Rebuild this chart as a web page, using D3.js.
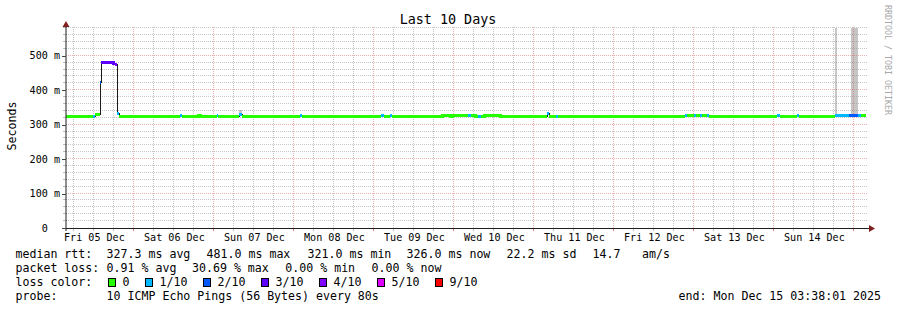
<!DOCTYPE html>
<html><head><meta charset="utf-8">
<script src="https://cdn.jsdelivr.net/npm/d3@7"></script>
<style>
html,body{margin:0;padding:0;background:#fff;}
svg{display:block;}
text{font-family:"DejaVu Sans Mono",monospace;white-space:pre;}
</style></head><body>
<svg id="chart" width="897" height="310"></svg>
<script>
// ---------------- data ----------------
const title = "Last 10 Days";
const yAxisTitle = "Seconds";
const watermark = "RRDTOOL / TOBI OETIKER";
const startTime = "2025-12-05T03:38";
const endTime = "2025-12-15T03:38";
const yMaxMs = 580.6;
const yTickValues = [0, 100, 200, 300, 400, 500];
const yTickLabels = ["0", "100 m", "200 m", "300 m", "400 m", "500 m"];
const dayLabelTimes = ["2025-12-05T12:00","2025-12-06T12:00","2025-12-07T12:00","2025-12-08T12:00","2025-12-09T12:00",
  "2025-12-10T12:00","2025-12-11T12:00","2025-12-12T12:00","2025-12-13T12:00","2025-12-14T12:00"];
const dayLabels = ["Fri 05 Dec","Sat 06 Dec","Sun 07 Dec","Mon 08 Dec","Tue 09 Dec",
  "Wed 10 Dec","Thu 11 Dec","Fri 12 Dec","Sat 13 Dec","Sun 14 Dec"];

// median RTT step series (start of each step), ms, and lost pings out of 10
const medianTimes = [
  "2025-12-05T03:38","2025-12-05T11:39","2025-12-05T12:15","2025-12-05T13:55","2025-12-05T14:13",
  "2025-12-05T17:39","2025-12-05T18:25","2025-12-05T19:01","2025-12-05T19:37","2025-12-05T22:37",
  "2025-12-06T13:50","2025-12-06T14:17","2025-12-06T19:14","2025-12-06T19:50","2025-12-07T00:51",
  "2025-12-07T01:23","2025-12-07T07:32","2025-12-07T08:17","2025-12-08T01:50","2025-12-08T02:17",
  "2025-12-09T02:08","2025-12-09T03:02","2025-12-09T04:50","2025-12-09T05:26","2025-12-09T06:56",
  "2025-12-09T20:26","2025-12-09T22:50","2025-12-09T23:26","2025-12-10T04:14","2025-12-10T05:08",
  "2025-12-10T06:20","2025-12-10T07:14","2025-12-10T08:08","2025-12-10T09:02","2025-12-10T13:50",
  "2025-12-11T03:51","2025-12-11T04:27","2025-12-11T06:38","2025-12-11T07:05","2025-12-12T21:20",
  "2025-12-12T21:51","2025-12-13T00:02","2025-12-13T00:38","2025-12-13T01:50","2025-12-13T02:26",
  "2025-12-13T03:51","2025-12-13T04:27","2025-12-14T00:51","2025-12-14T01:50","2025-12-14T06:51",
  "2025-12-14T07:37","2025-12-14T18:20","2025-12-14T22:37","2025-12-15T01:09","2025-12-15T02:08"];
const medianRtt = [
  322,323,329,421,480, 477,472,331,321,323,
  324,323,325,323,324, 323,329,323,324,322,
  325,322,324,322,321, 325,322,326,325,325,
  322,321,321,325,322, 331,322,323,322,324,
  325,324,325,324,325, 324,322,324,322,325,
  322,325,325,325,326];
const medianLoss = [
  0,1,0,2,3, 3,4,1,0,0,
  1,0,0,0,1, 0,1,0,1,0,
  1,0,1,0,0, 0,0,0,1,0,
  0,1,0,0,0, 1,0,1,0,1,
  0,1,0,1,0, 1,0,1,0,1,
  0,1,2,1,0];

// smoke (ping spread) patches
const smokeStart = ["2025-12-07T07:32","2025-12-14T18:20","2025-12-14T23:08"];
const smokeEnd   = ["2025-12-07T08:17","2025-12-14T18:51","2025-12-15T01:09"];
const smokeLow   = [323, 325, 325];
const smokeHigh  = [340, 600, 600];

const lossLevels = [0, 1, 2, 3, 4, 5, 9];
const lossLabels = ["0", "1/10", "2/10", "3/10", "4/10", "5/10", "9/10"];

const rttStatValues = [327.3, 481.0, 321.0, 326.0];
const rttStatNames = ["avg", "max", "min", "now"];
const rttSd = 22.2;
const rttAmps = 14.7;
const lossStatValues = [0.91, 30.69, 0.00, 0.00];
const lossStatNames = ["avg", "max", "min", "now"];
const probeText = "10 ICMP Echo Pings (56 Bytes) every 80s";
const endLabel = "end: Mon Dec 15 03:38:01 2025";

// ---------------- drawing ----------------
const lossColor = d3.scaleOrdinal().domain(lossLevels)
  .range(["#26ff00","#00b8ff","#0059ff","#5e00ff","#7e00ff","#dd00ff","#ff0000"]);

const parse = d3.timeParse("%Y-%m-%dT%H:%M");
const t0 = parse(startTime), t1 = parse(endTime);
const X0 = 66, X1 = 866, Y0 = 227.5, Y1 = 27.5;
const x = d3.scaleTime().domain([t0, t1]).range([X0, X1]);
const y = d3.scaleLinear().domain([0, yMaxMs]).range([Y0, Y1]);
const px = v => Math.floor(v) + 0.5;

const svg = d3.select("#chart");
svg.append("rect").attr("width", 897).attr("height", 310).attr("fill", "#fff");

svg.append("defs").append("clipPath").attr("id", "plot")
  .append("rect").attr("x", X0).attr("y", Y1).attr("width", X1 - X0 + 1).attr("height", Y0 - Y1 + 1);

// smoke
const gSmoke = svg.append("g").attr("clip-path", "url(#plot)");
smokeStart.forEach((s, i) => {
  const xa = Math.round(x(parse(s))), xb = Math.round(x(parse(smokeEnd[i])));
  const ya = Math.max(y(smokeHigh[i]), Y1), yb = y(smokeLow[i]);
  gSmoke.append("rect").attr("x", xa).attr("width", Math.max(1, xb - xa))
    .attr("y", Math.round(ya)).attr("height", Math.round(yb) - Math.round(ya))
    .attr("fill", "#c6c6c6");
});

// grid
const gGrid = svg.append("g").attr("shape-rendering", "crispEdges").attr("stroke-dasharray", "1,1");
const minorT = d3.timeHour.every(6).range(t0, t1).filter(d => d.getHours() !== 0);
const majorT = d3.timeDay.range(t0, t1);
gGrid.selectAll(".vmin").data(minorT).join("line")
  .attr("x1", d => px(x(d))).attr("x2", d => px(x(d))).attr("y1", 27).attr("y2", 228)
  .attr("stroke", "rgba(143,143,143,0.5)");
const minorV = d3.range(20, yMaxMs, 20).filter(v => v % 100 !== 0);
gGrid.selectAll(".hmin").data(minorV).join("line")
  .attr("x1", X0).attr("x2", 868).attr("y1", d => px(y(d))).attr("y2", d => px(y(d)))
  .attr("stroke", "rgba(143,143,143,0.5)");
gGrid.selectAll(".vmaj").data(majorT).join("line")
  .attr("x1", d => px(x(d))).attr("x2", d => px(x(d))).attr("y1", 27).attr("y2", 228)
  .attr("stroke", "rgba(222,79,79,0.45)");
gGrid.selectAll(".hmaj").data(yTickValues.filter(v => v > 0)).join("line")
  .attr("x1", X0).attr("x2", 868).attr("y1", d => px(y(d))).attr("y2", d => px(y(d)))
  .attr("stroke", "rgba(222,79,79,0.45)");

// median line (thin dark) and loss-coloured thick segments
const pts = medianTimes.map((t, i) => ({t: parse(t), v: medianRtt[i], l: medianLoss[i]}));
const stepPts = pts.concat([{t: t1, v: pts[pts.length - 1].v, l: pts[pts.length - 1].l}]);
const gData = svg.append("g").attr("clip-path", "url(#plot)");
const line = d3.line().x(d => Math.round(x(d.t))).y(d => px(y(d.v))).curve(d3.curveStepAfter);
gData.append("path").datum(stepPts).attr("d", line)
  .attr("fill", "none").attr("stroke", "#1a1a1a").attr("stroke-width", 1)
  .attr("shape-rendering", "crispEdges");
// runs of same loss
const runs = [];
pts.forEach((p, i) => {
  const next = i + 1 < pts.length ? pts[i + 1].t : t1;
  if (runs.length && runs[runs.length - 1].l === p.l) {
    runs[runs.length - 1].pts.push({t: p.t, v: p.v}, {t: next, v: p.v});
  } else {
    runs.push({l: p.l, pts: [{t: p.t, v: p.v}, {t: next, v: p.v}]});
  }
});
const segLine = d3.line().x(d => Math.round(x(d.t))).y(d => px(y(d.v)));
runs.forEach(r => {
  const sp = [];
  for (let k = 0; k < r.pts.length; k += 2) {
    if (k > 0) sp.push({t: r.pts[k].t, v: r.pts[k - 1].v});
    sp.push(r.pts[k], r.pts[k + 1]);
  }
  gData.append("path").datum(sp).attr("d", segLine)
    .attr("fill", "none").attr("stroke", lossColor(r.l)).attr("stroke-width", 3)
    .attr("stroke-linecap", "butt").attr("shape-rendering", "crispEdges");
});

// axes
const axisCol = "#1f1f1f", arrowCol = "#801f1f";
const gT = svg.append("g").attr("shape-rendering", "crispEdges");
gT.selectAll(".xt1").data(minorT).join("line")
  .attr("x1", d => px(x(d))).attr("x2", d => px(x(d))).attr("y1", 228).attr("y2", 231)
  .attr("stroke", "rgba(143,143,143,0.6)");
gT.selectAll(".xt2").data(majorT).join("line")
  .attr("x1", d => px(x(d))).attr("x2", d => px(x(d))).attr("y1", 228).attr("y2", 231)
  .attr("stroke", "rgba(222,79,79,0.7)");
gT.selectAll(".yt1").data(minorV).join("line")
  .attr("x1", 63).attr("x2", 66).attr("y1", d => px(y(d))).attr("y2", d => px(y(d)))
  .attr("stroke", "rgba(143,143,143,0.6)");

svg.append("line").attr("x1", 62).attr("x2", 870).attr("y1", 228.5).attr("y2", 228.5)
  .attr("stroke", axisCol).attr("shape-rendering", "crispEdges");
svg.append("line").attr("x1", 66).attr("x2", 66).attr("y1", 24).attr("y2", 231)
  .attr("stroke", axisCol);
svg.append("path").attr("d", "M66,21 L62.5,27 L69.5,27 Z").attr("fill", arrowCol);
svg.append("path").attr("d", "M875,228.5 L869,225 L869,232 Z").attr("fill", arrowCol);

const yAxis = d3.axisLeft(y).tickValues(yTickValues)
  .tickFormat((d, i) => yTickLabels[i]).tickSize(4).tickPadding(2);
const gy = svg.append("g").attr("transform", `translate(${X0},0)`).call(yAxis);
gy.select(".domain").remove();
gy.selectAll(".tick line").attr("stroke", "#444").attr("shape-rendering", "crispEdges")
  .attr("transform", "translate(0,0.5)");
gy.selectAll(".tick text")
  .attr("font-family", "DejaVu Sans Mono").attr("font-size", "10.1px").attr("fill", "#000")
  .attr("dx", (d, i) => yTickLabels[i].includes(" ") ? 0 : -12.3)
  .attr("dy", "0.36em");

const xAxis = d3.axisBottom(x).tickValues(dayLabelTimes.map(parse))
  .tickFormat((d, i) => dayLabels[i]).tickSize(0).tickPadding(0);
const gx = svg.append("g").attr("transform", "translate(0,228)").call(xAxis);
gx.select(".domain").remove();
gx.selectAll(".tick text").attr("font-family", "DejaVu Sans Mono").attr("font-size", "10.1px")
  .attr("fill", "#000").attr("y", 13).attr("dy", null);

// title, y title, watermark
svg.append("text").attr("x", 448).attr("y", 24).attr("text-anchor", "middle")
  .attr("font-size", "13.4px").attr("fill", "#000").text(title);
svg.append("text").attr("transform", "translate(15.5,126) rotate(-90)").attr("text-anchor", "middle")
  .attr("font-size", "11.6px").attr("fill", "#000").text(yAxisTitle);
svg.append("text").attr("transform", "translate(885,5) rotate(90)")
  .attr("font-size", "8.3px").attr("fill", "#a8a8a8").text(watermark);

// legend
const lg = svg.append("g").attr("font-size", "11.6px").attr("fill", "#000");
const rowY = [258.2, 272.1, 286.0, 299.9];
const put = (s, xx, yy, anchor) => lg.append("text").attr("x", xx).attr("y", yy)
  .attr("xml:space", "preserve").attr("text-anchor", anchor || "start").text(s);
put("median rtt:", 15.5, rowY[0]);
const rttX = [106.6, 206.6, 307.6, 406.6];
rttStatValues.forEach((v, i) => put(`${v.toFixed(1)} ms ${rttStatNames[i]}`, rttX[i], rowY[0]));
put(`${rttSd.toFixed(1)} ms sd`, 506.6, rowY[0]);
put(rttAmps.toFixed(1), 592.6, rowY[0]);
put("am/s", 642, rowY[0]);

put("packet loss:", 15.5, rowY[1]);
const lossX = [106.6, 192.0, 285.3, 371.6];
lossStatValues.forEach((v, i) => put(`${v.toFixed(2)} % ${lossStatNames[i]}`, lossX[i], rowY[1]));

put("loss color:", 15.5, rowY[2]);
let bx = 108;
const adv = 7.0;
lossLevels.forEach((l, i) => {
  lg.append("rect").attr("x", bx + 0.5).attr("y", 278.5).attr("width", 7).attr("height", 8)
    .attr("fill", lossColor(l)).attr("stroke", "#000").attr("stroke-width", 1);
  const tx = bx + 14.6;
  put(lossLabels[i], tx, rowY[2]);
  bx = tx + lossLabels[i].length * adv + 15.4;
});

put("probe:", 15.5, rowY[3]);
put(probeText, 106.6, rowY[3]);
put(endLabel, 881, rowY[3], "end");
</script>
</body></html>
